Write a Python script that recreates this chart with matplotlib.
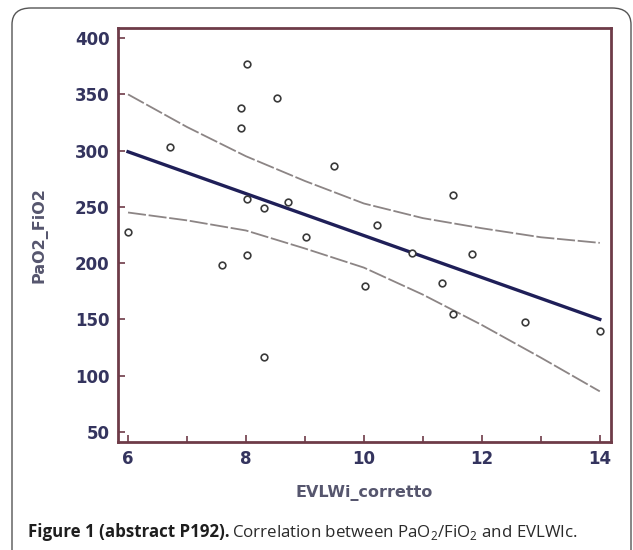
import matplotlib
matplotlib.use('Agg')
import matplotlib.pyplot as plt
from matplotlib.patches import FancyBboxPatch
from matplotlib.ticker import MultipleLocator

# data
evlwi = [6.0, 6.71, 7.6, 7.92, 7.92, 8.01, 8.01, 8.01, 8.31, 8.31, 8.52, 8.72,
         9.02, 9.49, 10.02, 10.22, 10.81, 11.32, 11.51, 11.51, 11.83, 12.73, 14.0]
pao2_fio2 = [228, 303, 198, 338, 320, 377, 257, 207, 249, 117, 347, 254,
             223, 286, 180, 234, 209, 182, 261, 155, 208, 148, 140]

fit_x = [6, 14]
fit_y = [299, 150]

ci_x = [6, 7, 8, 9, 10, 11, 12, 13, 14]
ci_upper = [350, 321, 295, 273, 253, 240, 231, 223, 218]
ci_lower = [245, 238, 229, 213, 196, 172, 145, 116, 86]

spine_col = '#6e3b48'
text_col = '#34345e'

plt.rcParams['font.family'] = ['DejaVu Sans']
plt.rcParams['mathtext.fontset'] = 'custom'
plt.rcParams['mathtext.rm'] = 'Open Sans'

fig = plt.figure(figsize=(6.33, 5.5), dpi=100)

# outer rounded frame
frame = FancyBboxPatch((12 / 633, -0.05), 619 / 633, 0.05 + 1 - 8 / 550,
                       boxstyle='round,pad=0,rounding_size=0.03',
                       transform=fig.transFigure, facecolor='none',
                       edgecolor='#555555', linewidth=1.0)
fig.patches.append(frame)

ax = fig.add_axes([118 / 633, 1 - 442 / 550, 493 / 633, 414 / 550])

ax.plot(ci_x, ci_upper, color='#8c8585', lw=1.3, ls=(0, (10, 1.5)))
ax.plot(ci_x, ci_lower, color='#8c8585', lw=1.3, ls=(0, (10, 1.5)))
ax.plot(fit_x, fit_y, color='#1f1f58', lw=2.4)
ax.plot(evlwi, pao2_fio2, 'o', ms=4.8, mfc='white', mec='#3a3a3a', mew=1.2)

ax.set_xlim(5.83, 14.19)
ax.set_ylim(41, 409)
ax.set_xticks([6, 8, 10, 12, 14])
ax.xaxis.set_minor_locator(MultipleLocator(1))
ax.set_yticks([50, 100, 150, 200, 250, 300, 350, 400])

for s in ax.spines.values():
    s.set_color(spine_col)
    s.set_linewidth(2)

ax.tick_params(axis='both', which='both', direction='in', colors=spine_col,
               labelcolor=text_col, labelsize=12)
ax.tick_params(axis='y', which='major', length=5, width=1.2, pad=6)
ax.tick_params(axis='x', which='major', length=5, width=1.2, pad=6)
ax.tick_params(axis='x', which='minor', length=4, width=1.2)
ax.tick_params(top=False, right=False, which='both')
for lab in ax.get_xticklabels() + ax.get_yticklabels():
    lab.set_fontweight('bold')

ax.set_xlabel('EVLWi_corretto', fontsize=11.5, fontweight='bold',
              color='#56566e', labelpad=12)
ax.set_ylabel('PaO2_FiO2', fontsize=11.5, fontweight='bold',
              color='#56566e', labelpad=20)

# caption
t1 = fig.text(28 / 633, 1 - 532 / 550, 'Figure 1 (abstract P192).',
              fontsize=12.2, fontweight='bold', family='Open Sans',
              color='#1e1e1e', va='center')
fig.canvas.draw()
bb = t1.get_window_extent()
fig.text(bb.x1 / fig.bbox.width + 0.004, 1 - 532 / 550,
         'Correlation between PaO$_2$/FiO$_2$ and EVLWIc.',
         fontsize=12.2, family='Open Sans', color='#2a2a2a', va='center')

fig.savefig('out.png', dpi=100)
